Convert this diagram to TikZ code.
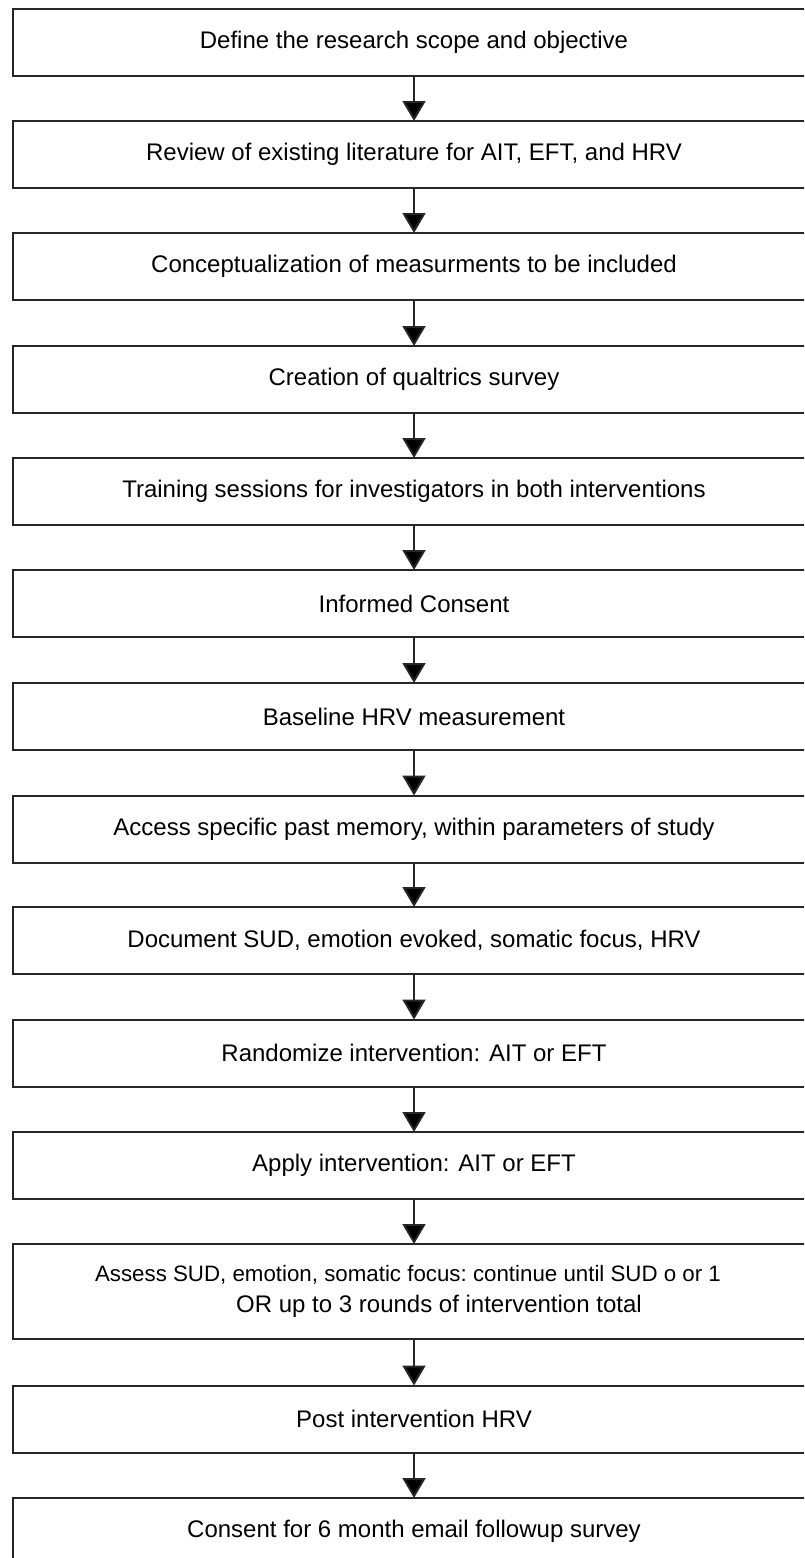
\documentclass[tikz,border=0pt]{standalone}
\usepackage{fontspec}
\setmainfont{Liberation Sans}
\usetikzlibrary{arrows.meta}
\tikzset{
  box/.style={draw=black!85, line width=2pt, rectangle, minimum width=802pt, minimum height=67pt, inner sep=0pt, outer sep=0pt, font=\fontsize{24pt}{30pt}\selectfont, align=center},
  arr/.style={draw=black!85, line width=2pt, -{Triangle[width=23pt,length=20pt,fill=black]}}
}
\begin{document}
\begin{tikzpicture}[x=1pt,y=-1pt]
\useasboundingbox (0,0) rectangle (804,1558);
\begin{scope}
\clip (0,0) rectangle (804,1558);
\node[box] (b1) at (414,42) {Define the research scope and objective};
\node[box] (b2) at (414,154.5) {Review of existing literature for AIT, EFT, and HRV};
\node[box] (b3) at (414,266.5) {Conceptualization of measurments to be included};
\node[box] (b4) at (414,379.5) {Creation of qualtrics survey};
\node[box] (b5) at (414,491.5) {Training sessions for investigators in both interventions};
\node[box] (b6) at (414,603.5) {Informed Consent};
\node[box] (b7) at (414,716.5) {Baseline HRV measurement};
\node[box] (b8) at (414,829) {Access specific past memory, within parameters of study};
\node[box] (b9) at (414,940.5) {Document SUD, emotion evoked, somatic focus, HRV};
\node[box] (b10) at (414,1053) {Randomize intervention: AIT or EFT};
\node[box] (b11) at (414,1165.5) {Apply intervention: AIT or EFT};
\node[box, minimum height=95pt] (b12) at (414,1291.5) {{\fontsize{22.3pt}{30pt}\selectfont\frenchspacing Assess SUD, emotion, somatic focus: continue until SUD o or 1}\hspace*{12pt}\\[1pt]\hspace*{50pt}OR up to 3 rounds of intervention total};
\node[box] (b13) at (414,1419) {Post intervention HRV};
\node[box] (b14) at (414,1531.5) {Consent for 6 month email followup survey};
\foreach \a/\b in {b1/b2,b2/b3,b3/b4,b4/b5,b5/b6,b6/b7,b7/b8,b8/b9,b9/b10,b10/b11,b11/b12,b12/b13,b13/b14}
  \draw[arr] (\a.south) -- (\b.north);
\end{scope}
\end{tikzpicture}
\end{document}
